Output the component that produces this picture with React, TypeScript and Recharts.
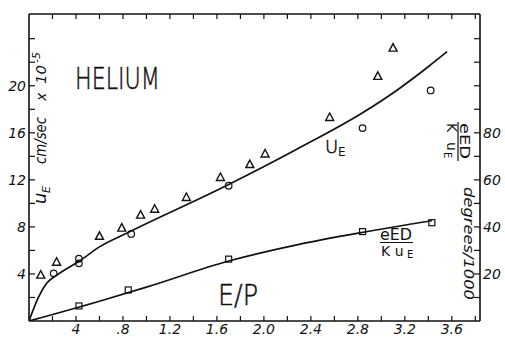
import React from 'react';
import { ComposedChart, Line, Scatter, XAxis, YAxis } from 'recharts';

// drift velocity curve u_E (left axis, cm/sec x 10^-5)
const ueCurve = [
  { x: 0, y: 0 }, { x: 0.08, y: 2.0 }, { x: 0.15, y: 3.2 }, { x: 0.25, y: 4.0 },
  { x: 0.43, y: 5.1 }, { x: 0.6, y: 6.3 }, { x: 0.84, y: 7.5 }, { x: 1.7, y: 11.6 },
  { x: 2.28, y: 14.6 }, { x: 2.84, y: 17.7 }, { x: 3.13, y: 19.6 }, { x: 3.41, y: 21.7 },
  { x: 3.56, y: 22.9 },
];

// eED/Ku_E curve (right axis, degrees/1000)
const edCurve = [
  { x: 0, y: 0 }, { x: 0.6, y: 8.4 }, { x: 1.0, y: 14.4 }, { x: 1.7, y: 25.5 },
  { x: 2.3, y: 32.6 }, { x: 2.83, y: 37.6 }, { x: 3.43, y: 42.6 },
];

const triangles = [
  { x: 0.1, y: 3.9 }, { x: 0.235, y: 5.0 }, { x: 0.6, y: 7.2 }, { x: 0.79, y: 7.9 },
  { x: 0.95, y: 9.0 }, { x: 1.07, y: 9.5 }, { x: 1.34, y: 10.5 }, { x: 1.63, y: 12.2 },
  { x: 1.88, y: 13.3 }, { x: 2.01, y: 14.2 }, { x: 2.56, y: 17.3 }, { x: 2.97, y: 20.8 },
  { x: 3.1, y: 23.2 },
];

const circles = [
  { x: 0.21, y: 4.05 }, { x: 0.425, y: 5.3 }, { x: 0.425, y: 4.9 }, { x: 0.87, y: 7.4 },
  { x: 1.7, y: 11.5 }, { x: 2.84, y: 16.4 }, { x: 3.42, y: 19.6 },
];

const squares = [
  { x: 0.425, y: 6.4 }, { x: 0.845, y: 13.2 }, { x: 1.7, y: 26.3 }, { x: 2.84, y: 38 },
  { x: 3.43, y: 41.8 },
];

const xTicks = [0.2, 0.4, 0.6, 0.8, 1.0, 1.2, 1.4, 1.6, 1.8, 2.0, 2.2, 2.4, 2.6, 2.8, 3.0, 3.2, 3.4, 3.6, 3.8];
const xLabels: Record<string, string> = {
  '0.4': '4', '0.8': '.8', '1.2': '1.2', '1.6': '1.6', '2': '2.0', '2.4': '2.4', '2.8': '2.8', '3.2': '3.2', '3.6': '3.6',
};
const leftTicks = [2, 4, 6, 8, 10, 12, 14, 16, 18, 20, 22, 24];
const leftLabels = [4, 8, 12, 16, 20];
const rightTicks = [10, 20, 30, 40, 50, 60, 70, 80, 90, 100, 110, 120];
const rightLabels = [20, 40, 60, 80];

const hand = { fontFamily: 'DejaVu Sans', fontStyle: 'italic', fill: '#111' } as const;
const thin = { fontFamily: "'DejaVu Sans ExtraLight', 'DejaVu Sans'", fontWeight: 200, fill: '#111', stroke: '#111', strokeWidth: 0.5 } as const;
const plain = { fontFamily: 'DejaVu Sans', fill: '#111' } as const;

const BottomTick = (p: any) => {
  const lab = xLabels[String(p.payload.value)];
  return (
    <g>
      <line x1={p.x} x2={p.x} y1={p.y} y2={p.y - 5} stroke="#111" strokeWidth={1.2} />
      {lab && <text x={p.x} y={p.y + 13} textAnchor="middle" fontSize={14} {...hand}>{lab}</text>}
    </g>
  );
};

const TopTick = (p: any) => (
  <line x1={p.x} x2={p.x} y1={p.y} y2={p.y + 5} stroke="#111" strokeWidth={1.2} />
);

const LeftTick = (p: any) => (
  <g>
    <line x1={p.x} x2={p.x + 6} y1={p.y} y2={p.y} stroke="#111" strokeWidth={1.2} />
    {leftLabels.includes(p.payload.value) && (
      <text x={p.x - 3} y={p.y + 5} textAnchor="end" fontSize={14} {...hand}>{p.payload.value}</text>
    )}
  </g>
);

const RightTick = (p: any) => (
  <g>
    <line x1={p.x} x2={p.x - 6} y1={p.y} y2={p.y} stroke="#111" strokeWidth={1.2} />
    {rightLabels.includes(p.payload.value) && (
      <text x={p.x + 3} y={p.y + 5} textAnchor="start" fontSize={14} {...hand}>{p.payload.value}</text>
    )}
  </g>
);

const Tri = (p: any) => (
  <path d={`M${p.cx},${p.cy - 4.5}L${p.cx + 4},${p.cy + 3}L${p.cx - 4},${p.cy + 3}Z`} fill="none" stroke="#111" strokeWidth={1.4} />
);
const Circ = (p: any) => <circle cx={p.cx} cy={p.cy} r={3.3} fill="none" stroke="#111" strokeWidth={1.2} />;
const Sq = (p: any) => <rect x={p.cx - 3} y={p.cy - 3} width={6} height={6} fill="none" stroke="#111" strokeWidth={1.2} />;

export default function App() {
  return (
    <div style={{ position: 'relative', width: 505, height: 337, background: '#fff' }}>
      <style>{'body{margin:0}'}</style>
      <ComposedChart width={505} height={337} margin={{ top: 0, right: 0, bottom: 0, left: 0 }}>
        <XAxis xAxisId="b" type="number" dataKey="x" domain={[0, 3.84]} ticks={xTicks} interval={0}
          height={16} tickSize={0} tickMargin={0} tickLine={false} tick={<BottomTick />}
          axisLine={{ stroke: '#111', strokeWidth: 1.6 }} allowDataOverflow />
        <XAxis xAxisId="t" orientation="top" type="number" dataKey="x" domain={[0, 3.84]} ticks={xTicks} interval={0}
          height={14} tickSize={0} tickMargin={0} tickLine={false} tick={<TopTick />}
          axisLine={{ stroke: '#111', strokeWidth: 1.6 }} allowDataOverflow />
        <YAxis yAxisId="l" type="number" domain={[0, 26.1]} ticks={leftTicks} interval={0} width={29}
          tickSize={0} tickMargin={0} tickLine={false} tick={<LeftTick />}
          axisLine={{ stroke: '#111', strokeWidth: 1.6 }} allowDataOverflow />
        <YAxis yAxisId="r" orientation="right" type="number" domain={[0, 130.5]} ticks={rightTicks} interval={0} width={25}
          tickSize={0} tickMargin={0} tickLine={false} tick={<RightTick />}
          axisLine={{ stroke: '#111', strokeWidth: 1.6 }} allowDataOverflow />
        <Line xAxisId="b" yAxisId="l" data={ueCurve} dataKey="y" type="monotone" stroke="#111" strokeWidth={1.7} dot={false} isAnimationActive={false} />
        <Line xAxisId="b" yAxisId="r" data={edCurve} dataKey="y" type="monotone" stroke="#111" strokeWidth={1.7} dot={false} isAnimationActive={false} />
        <Scatter xAxisId="b" yAxisId="l" data={triangles} dataKey="y" shape={<Tri />} isAnimationActive={false} />
        <Scatter xAxisId="b" yAxisId="l" data={circles} dataKey="y" shape={<Circ />} isAnimationActive={false} />
        <Scatter xAxisId="b" yAxisId="r" data={squares} dataKey="y" shape={<Sq />} isAnimationActive={false} />
      </ComposedChart>
      <svg width={505} height={337} style={{ position: 'absolute', left: 0, top: 0, pointerEvents: 'none' }}>
        <text x={75} y={89} fontSize={31} textLength={85} lengthAdjust="spacingAndGlyphs" {...thin}>HELIUM</text>
        <text x={218} y={305} fontSize={28} textLength={40} lengthAdjust="spacingAndGlyphs" {...thin}>E/P</text>
        <text x={325} y={153} fontSize={18} {...thin}>U</text>
        <text x={338} y={156} fontSize={12} {...plain}>E</text>
        {/* eED / K u_E label near lower curve */}
        <text x={380} y={240} fontSize={15} textLength={32} lengthAdjust="spacingAndGlyphs" {...plain}>eED</text>
        <line x1={380} x2={413} y1={242.5} y2={242.5} stroke="#111" strokeWidth={1.2} />
        <text x={381} y={256} fontSize={14} {...plain}>K u</text>
        <text x={407} y={258} fontSize={10} {...plain}>E</text>
        {/* left axis label */}
        <g transform="translate(46,204) rotate(-90)">
          <text x={0} y={0} fontSize={18} {...hand}>u</text>
          <text x={11} y={4} fontSize={11} {...hand}>E</text>
          <text x={40} y={0} fontSize={15} textLength={47} lengthAdjust="spacingAndGlyphs" {...hand}>cm/sec</text>
          <text x={103} y={0} fontSize={14} {...hand}>x</text>
          <text x={120} y={0} fontSize={14} textLength={19} lengthAdjust="spacingAndGlyphs" {...hand}>10</text>
          <text x={141} y={-6} fontSize={11} {...hand}>-5</text>
        </g>
        {/* right axis label, rotated to read downward */}
        <g transform="translate(460,123) rotate(90)">
          <text x={0} y={0} fontSize={14} textLength={36} lengthAdjust="spacingAndGlyphs" {...plain}>eED</text>
        </g>
        <line x1={458} x2={458} y1={122} y2={161} stroke="#111" strokeWidth={1.2} />
        <g transform="translate(447,123) rotate(90)">
          <text x={0} y={0} fontSize={14} {...plain}>K</text>
          <text x={19} y={0} fontSize={14} {...plain}>u</text>
          <text x={29} y={3} fontSize={10} {...plain}>E</text>
        </g>
        <g transform="translate(464,187) rotate(90)">
          <text x={0} y={0} fontSize={14} textLength={113} lengthAdjust="spacingAndGlyphs" {...hand}>degrees/1000</text>
        </g>
      </svg>
    </div>
  );
}
